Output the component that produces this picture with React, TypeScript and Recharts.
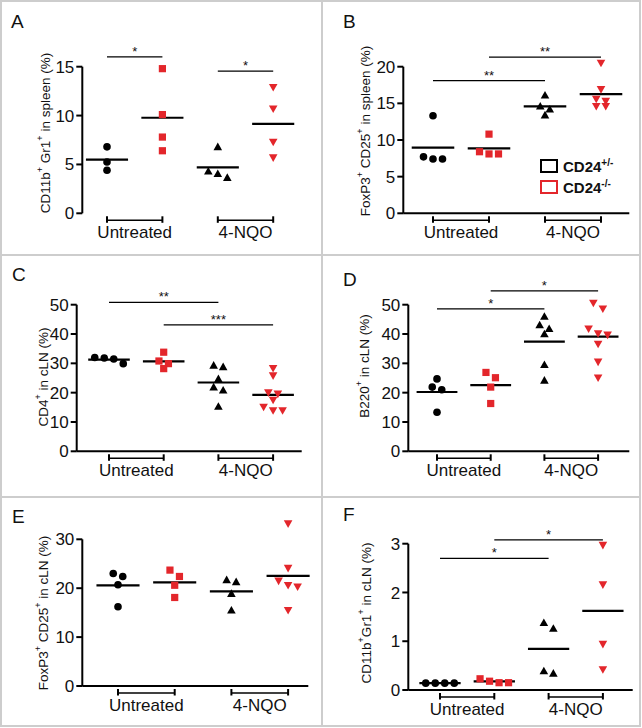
import React from "react";
import { ScatterChart, Scatter, XAxis, YAxis, ReferenceLine, Legend } from "recharts";

const FONT = '"Liberation Sans", Arial, Helvetica, sans-serif';
const BLACK = "#000000";
const RED = "#e3262b";
const FRAME = "#cdcdcd";

const groups = ["Untreated", "4-NQO"];
const genotypeBase = "CD24";
const genotypeSup = ["+/-", "-/-"];

// A: CD11b+ Gr1+ in spleen
const aUntHet = [6.8, 5.25, 4.4];
const aUntKo = [14.8, 10.1, 7.8, 6.4];
const aNqoHet = [6.8, 4.3, 4.05, 3.65];
const aNqoKo = [12.9, 10.7, 7.3, 5.7];
const aTicks = [0, 5, 10, 15];

// B: FoxP3+ CD25+ in spleen
const bUntHet = [13.3, 7.7, 7.4, 7.4];
const bUntKo = [10.8, 8.4, 8.1, 8.1];
const bNqoHet = [16.1, 14.6, 14.2, 13.4];
const bNqoKo = [20.5, 16.9, 15.6, 15.3, 14.6, 14.6];
const bTicks = [0, 5, 10, 15, 20];

// C: CD4+ in cLN
const cUntHet = [32.0, 31.8, 31.5, 29.9];
const cUntKo = [33.8, 30.8, 29.9, 28.2];
const cNqoHet = [29.3, 28.8, 24.7, 21.9, 20.8, 15.3];
const cNqoKo = [28.3, 25.8, 20.0, 19.6, 17.5, 15.1, 13.9, 13.9];
const cTicks = [0, 10, 20, 30, 40, 50];

// D: B220+ in cLN
const dUntHet = [24.7, 21.9, 21.0, 13.3];
const dUntKo = [26.9, 25.1, 21.9, 16.3];
const dNqoHet = [46.0, 43.1, 41.8, 40.0, 29.5, 24.2];
const dNqoKo = [50.6, 48.6, 41.8, 40.2, 39.7, 36.6, 30.5, 25.1];
const dTicks = [0, 10, 20, 30, 40, 50];

// E: FoxP3+ CD25+ in cLN
const eUntHet = [23.0, 22.4, 20.7, 16.2];
const eUntKo = [23.7, 22.4, 20.6, 18.1];
const eNqoHet = [21.7, 21.3, 18.9, 15.5];
const eNqoKo = [33.2, 24.1, 21.5, 20.6, 20.3, 15.5];
const eTicks = [0, 10, 20, 30];

// F: CD11b+Gr1+ in cLN
const fUntHet = [0.14, 0.14, 0.14, 0.14];
const fUntKo = [0.23, 0.18, 0.15, 0.15];
const fNqoHet = [1.38, 1.26, 0.39, 0.34];
const fNqoKo = [2.97, 2.16, 0.94, 0.42];
const fTicks = [0, 1, 2, 3];

type Kind = "circle" | "square" | "up" | "down";
const kinds: Kind[] = ["circle", "square", "up", "down"];
const colors = [BLACK, RED, BLACK, RED];

interface Sig { a: number; b: number; y: number; t: string }

interface PanelCfg {
  letter: string;
  left: number; top: number; width: number; height: number;
  axisX: number; y0: number; yTickPx: number; xEnd: number;
  g1: number; unit: number;
  ticks: number[];
  series: number[][];
  sig: Sig[];
  label: string;
  labelX: number; labelY: number;
  letterX: number; letterY: number;
  xAxisLine: boolean;
  legend?: boolean;
}

const panels: PanelCfg[] = [
  {
    letter: "A", left: 0, top: 0, width: 322, height: 255,
    axisX: 82.3, y0: 213.3, yTickPx: 66.7, xEnd: 306, g1: 107, unit: 55.4,
    ticks: aTicks, series: [aUntHet, aUntKo, aNqoHet, aNqoKo],
    sig: [{ a: 1, b: 2, y: 16.0, t: "*" }, { a: 3, b: 4, y: 14.55, t: "*" }],
    label: "CD11b^+ Gr1^+ in spleen (%)", labelX: 45, labelY: 133,
    letterX: 11, letterY: 28, xAxisLine: false,
  },
  {
    letter: "B", left: 322, top: 0, width: 320, height: 255,
    axisX: 403.3, y0: 213.3, yTickPx: 66.7, xEnd: 629.3, g1: 433, unit: 56,
    ticks: bTicks, series: [bUntHet, bUntKo, bNqoHet, bNqoKo],
    sig: [{ a: 1, b: 3, y: 18.1, t: "**" }, { a: 2, b: 4, y: 21.3, t: "**" }],
    label: "FoxP3^+ CD25^+ in spleen (%)", labelX: 365, labelY: 131,
    letterX: 343, letterY: 28, xAxisLine: true, legend: true,
  },
  {
    letter: "C", left: 0, top: 255, width: 322, height: 242,
    axisX: 76.7, y0: 451.3, yTickPx: 304.7, xEnd: 301.7, g1: 109, unit: 54.7,
    ticks: cTicks, series: [cUntHet, cUntKo, cNqoHet, cNqoKo],
    sig: [{ a: 1, b: 3, y: 50.8, t: "**" }, { a: 2, b: 4, y: 43.1, t: "***" }],
    label: "CD4^+ in cLN (%)", labelX: 43, labelY: 377,
    letterX: 12, letterY: 281, xAxisLine: true,
  },
  {
    letter: "D", left: 322, top: 255, width: 320, height: 242,
    axisX: 408.3, y0: 451.3, yTickPx: 304.7, xEnd: 629.3, g1: 437, unit: 53.7,
    ticks: dTicks, series: [dUntHet, dUntKo, dNqoHet, dNqoKo],
    sig: [{ a: 1, b: 3, y: 48.6, t: "*" }, { a: 2, b: 4, y: 54.7, t: "*" }],
    label: "B220^+ in cLN (%)", labelX: 364, labelY: 366,
    letterX: 343, letterY: 286, xAxisLine: true,
  },
  {
    letter: "E", left: 0, top: 497, width: 322, height: 229,
    axisX: 82.3, y0: 686, yTickPx: 539.3, xEnd: 308.3, g1: 118, unit: 56.7,
    ticks: eTicks, series: [eUntHet, eUntKo, eNqoHet, eNqoKo],
    sig: [],
    label: "FoxP3^+ CD25^+ in cLN (%)", labelX: 43, labelY: 613,
    letterX: 12, letterY: 523, xAxisLine: true,
  },
  {
    letter: "F", left: 322, top: 497, width: 320, height: 229,
    axisX: 408.3, y0: 690, yTickPx: 543.7, xEnd: 632.7, g1: 440, unit: 54.3,
    ticks: fTicks, series: [fUntHet, fUntKo, fNqoHet, fNqoKo],
    sig: [{ a: 1, b: 3, y: 2.7, t: "*" }, { a: 2, b: 4, y: 3.08, t: "*" }],
    label: "CD11b^+Gr1^+ in cLN (%)", labelX: 366, labelY: 613,
    letterX: 343, letterY: 521, xAxisLine: true,
  },
];

const PLOT_PAD = 10;
const Y_W = 50;
const X_H = 30;
const ROW_PX = 7;
const DOT_PX = 9.5;
const MEAN_HALF = 0.38;

// Prism-like column scatter: close values share a row and are spread sideways
function swarm(values: number[], g: number, pxY: number, unitPx: number) {
  const sorted = [...values].sort((p, q) => q - p);
  const rows: number[][] = [];
  for (const v of sorted) {
    const row = rows[rows.length - 1];
    if (row && (row[0] - v) * pxY < ROW_PX) row.push(v);
    else rows.push([v]);
  }
  return rows.flatMap((row) =>
    row.map((v, i) => ({ x: g + ((i - (row.length - 1) / 2) * DOT_PX) / unitPx, y: v })),
  );
}

const mean = (v: number[]) => v.reduce((s, x) => s + x, 0) / v.length;

/* eslint-disable @typescript-eslint/no-explicit-any */
function Marker(props: any) {
  const { cx, cy, kind, color } = props;
  if (cx == null || cy == null) return null;
  if (kind === "circle") return <circle cx={cx} cy={cy} r={3.8} fill={color} />;
  if (kind === "square") return <rect x={cx - 3.6} y={cy - 3.6} width={7.2} height={7.2} fill={color} />;
  if (kind === "up")
    return <polygon points={`${cx},${cy - 4.3} ${cx + 4.3},${cy + 3.3} ${cx - 4.3},${cy + 3.3}`} fill={color} />;
  return <polygon points={`${cx},${cy + 4.3} ${cx + 4.3},${cy - 3.3} ${cx - 4.3},${cy - 3.3}`} fill={color} />;
}

function CategoryTick(props: any) {
  const { x, y, payload } = props;
  const label = groups[Math.floor(payload.value / 2)];
  return (
    <text x={x} y={y} dy={25} textAnchor="middle" fontSize={17} fill="#111" fontFamily={FONT}>
      {label}
    </text>
  );
}
/* eslint-enable @typescript-eslint/no-explicit-any */

function AxisTitle({ text, x, y }: { text: string; x: number; y: number }) {
  const parts = text.split("^+");
  return (
    <text
      x={x}
      y={y}
      transform={`rotate(-90, ${x}, ${y})`}
      textAnchor="middle"
      dominantBaseline="central"
      fontSize={13.5}
      fill="#111"
      fontFamily={FONT}
    >
      {parts.map((p, i) => (
        <React.Fragment key={i}>
          <tspan>{p}</tspan>
          {i < parts.length - 1 && (
            <tspan baselineShift="super" fontSize={9}>+</tspan>
          )}
        </React.Fragment>
      ))}
    </text>
  );
}

function GenotypeLegend() {
  return (
    <div style={{ fontFamily: FONT, fontWeight: 700, fontSize: 15, color: "#111" }}>
      {genotypeSup.map((s, i) => (
        <div key={s} style={{ display: "flex", alignItems: "center", height: 21 }}>
          <span
            style={{
              width: 18,
              height: 14,
              border: `2.5px solid ${colors[i]}`,
              boxSizing: "border-box",
              marginRight: 5,
              display: "inline-block",
            }}
          />
          <span style={{ lineHeight: 1 }}>
            {genotypeBase}
            <span style={{ fontSize: 10, verticalAlign: 6 }}>{s}</span>
          </span>
        </div>
      ))}
    </div>
  );
}

function Panel({ cfg }: { cfg: PanelCfg }) {
  const tickTop = cfg.ticks[cfg.ticks.length - 1];
  const pxY = (cfg.y0 - cfg.yTickPx) / tickTop;
  const yTop = (cfg.y0 - (cfg.top + PLOT_PAD)) / pxY;
  const xMin = 1 - (cfg.g1 - cfg.axisX) / cfg.unit;
  const xMax = 1 + (cfg.xEnd - cfg.g1) / cfg.unit;
  const margin = {
    top: PLOT_PAD,
    left: cfg.axisX - cfg.left - Y_W,
    right: cfg.left + cfg.width - cfg.xEnd,
    bottom: cfg.top + cfg.height - cfg.y0 - X_H,
  };
  const bracketY = -7 / pxY;
  const tickY1 = -3 / pxY;
  const tickY2 = -9.5 / pxY;

  return (
    <div style={{ position: "absolute", left: cfg.left, top: cfg.top }}>
      <ScatterChart width={cfg.width} height={cfg.height} margin={margin}>
        <XAxis
          dataKey="x"
          type="number"
          domain={[xMin, xMax]}
          allowDataOverflow
          ticks={[1.5, 3.5]}
          interval={0}
          tick={<CategoryTick />}
          tickLine={false}
          tickSize={0}
          tickMargin={0}
          height={X_H}
          axisLine={cfg.xAxisLine ? { stroke: BLACK, strokeWidth: 2 } : false}
        />
        <YAxis
          dataKey="y"
          type="number"
          domain={[0, yTop]}
          allowDataOverflow
          ticks={cfg.ticks}
          interval={0}
          width={Y_W}
          stroke={BLACK}
          axisLine={false}
          tickSize={6}
          tickMargin={2}
          tickLine={{ stroke: BLACK, strokeWidth: 2 }}
          tick={{ fontSize: 17, fill: "#111", fontFamily: FONT }}
          label={{
            content: () => (
              <AxisTitle text={cfg.label} x={cfg.labelX - cfg.left} y={cfg.labelY - cfg.top} />
            ),
          }}
        />
        <ReferenceLine
          segment={[{ x: xMin, y: 0 }, { x: xMin, y: tickTop }]}
          stroke={BLACK}
          strokeWidth={2}
          ifOverflow="visible"
        />
        {[1, 3].map((g) => (
          <ReferenceLine
            key={`br${g}`}
            segment={[{ x: g, y: bracketY }, { x: g + 1, y: bracketY }]}
            stroke={BLACK}
            strokeWidth={1.5}
            ifOverflow="visible"
          />
        ))}
        {[1, 2, 3, 4].map((g) => (
          <ReferenceLine
            key={`bt${g}`}
            segment={[{ x: g, y: tickY1 }, { x: g, y: tickY2 }]}
            stroke={BLACK}
            strokeWidth={2}
            ifOverflow="visible"
          />
        ))}
        {cfg.series.map((vals, i) => (
          <Scatter
            key={`s${i}`}
            data={swarm(vals, i + 1, pxY, cfg.unit)}
            fill={colors[i]}
            isAnimationActive={false}
            shape={(p: unknown) => <Marker {...(p as object)} kind={kinds[i]} color={colors[i]} />}
          />
        ))}
        {cfg.series.map((vals, i) => (
          <ReferenceLine
            key={`m${i}`}
            segment={[
              { x: i + 1 - MEAN_HALF, y: mean(vals) },
              { x: i + 1 + MEAN_HALF, y: mean(vals) },
            ]}
            stroke={BLACK}
            strokeWidth={2.2}
            ifOverflow="visible"
          />
        ))}
        {cfg.sig.map((s, i) => (
          <ReferenceLine
            key={`sig${i}`}
            segment={[{ x: s.a, y: s.y }, { x: s.b, y: s.y }]}
            stroke={BLACK}
            strokeWidth={1.2}
            ifOverflow="visible"
            label={{ value: s.t, position: "top", offset: 1, fontSize: 13, fill: "#111", fontFamily: FONT }}
          />
        ))}
        {cfg.legend && (
          <Legend
            layout="horizontal"
            verticalAlign="middle"
            align="center"
            content={() => <GenotypeLegend />}
            wrapperStyle={{ left: 218, top: 155.5, width: 110 }}
          />
        )}
      </ScatterChart>
    </div>
  );
}

export default function App() {
  return (
    <div style={{ position: "absolute", left: 0, top: 0, width: 642, height: 728, background: "#fff" }}>
      <svg width={642} height={728} style={{ position: "absolute", left: 0, top: 0 }}>
        <rect x={1} y={1} width={639} height={725} fill="none" stroke={FRAME} strokeWidth={2} />
        <line x1={322} y1={0} x2={322} y2={727} stroke={FRAME} strokeWidth={2} />
        <line x1={0} y1={255} x2={641} y2={255} stroke={FRAME} strokeWidth={2} />
        <line x1={0} y1={497} x2={641} y2={497} stroke={FRAME} strokeWidth={2} />
        {panels.map((p) => (
          <text key={p.letter} x={p.letterX} y={p.letterY} fontSize={19} fill="#111" fontFamily={FONT}>
            {p.letter}
          </text>
        ))}
      </svg>
      {panels.map((p) => (
        <Panel key={p.letter} cfg={p} />
      ))}
    </div>
  );
}
